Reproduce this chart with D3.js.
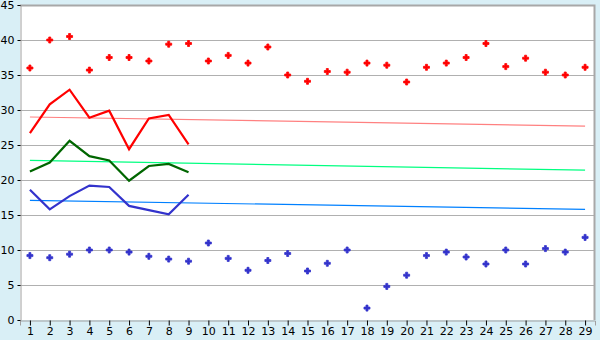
<!DOCTYPE html>
<html lang="en">
<head>
    <meta charset="UTF-8">
    <title>Chart</title>
    <script src="https://cdnjs.cloudflare.com/ajax/libs/d3/7.8.5/d3.min.js"></script>
    <style>
        html, body {
            margin: 0;
            padding: 0;
            background-color: #d9eff6;
        }
        text {
            font-family: "DejaVu Sans", Verdana, sans-serif;
            font-size: 11px;
            fill: #000;
        }
    </style>
</head>
<body>
    <div id="chart"></div>
    <script>
        const days = d3.range(1, 30);
        const yTicks = [0, 5, 10, 15, 20, 25, 30, 35, 40, 45];

        const highPoints = [36, 40, 40.5, 35.7, 37.5, 37.5, 37, 39.4, 39.5, 37, 37.8, 36.7, 39, 35, 34.1,
            35.5, 35.4, 36.7, 36.4, 34, 36.1, 36.7, 37.5, 39.5, 36.2, 37.4, 35.4, 35, 36.1];
        const lowPoints = [9.2, 8.9, 9.4, 10, 10, 9.7, 9.1, 8.7, 8.4, 11, 8.8, 7.1, 8.5, 9.5, 7,
            8.1, 10, 1.7, 4.8, 6.4, 9.2, 9.7, 9, 8, 10, 8, 10.2, 9.7, 11.8];

        const redLine = [26.7, 30.8, 32.9, 28.9, 29.9, 24.4, 28.8, 29.3, 25.1];
        const greenLine = [21.2, 22.5, 25.6, 23.4, 22.8, 19.9, 22, 22.3, 21.1];
        const blueLine = [18.6, 15.8, 17.7, 19.2, 19, 16.3, 15.7, 15.1, 17.9];

        // trend lines, value at day 1 and day 29
        const redTrend = [29.0, 27.7];
        const greenTrend = [22.8, 21.4];
        const blueTrend = [17.1, 15.8];

        const width = 600, height = 340;
        const mLeft = 20, mRight = 595, mTop = 5, mBottom = 320;

        const svg = d3.select("#chart").append("svg")
            .attr("width", width)
            .attr("height", height);

        const x = d3.scalePoint().domain(days).range([mLeft, mRight]).padding(0.5);
        const y = d3.scaleLinear().domain([0, 45]).range([mBottom, mTop]);

        svg.append("rect")
            .attr("x", mLeft).attr("y", mTop)
            .attr("width", mRight - mLeft).attr("height", mBottom - mTop)
            .attr("fill", "#fff");

        // grid
        svg.append("g").selectAll("line")
            .data(yTicks.slice(1))
            .join("line")
            .attr("x1", mLeft).attr("x2", mRight)
            .attr("y1", d => Math.round(y(d)) + 0.5)
            .attr("y2", d => Math.round(y(d)) + 0.5)
            .attr("stroke", "#b0b0b0");

        // frame top / right
        svg.append("path")
            .attr("d", `M${mLeft},${mTop + 0.5}H${mRight - 0.5}V${mBottom}`)
            .attr("fill", "none")
            .attr("stroke", "#a8a8a8")
            .attr("stroke-width", 2);

        const yAxis = svg.append("g")
            .attr("transform", `translate(${mLeft + 0.5},0)`)
            .call(d3.axisLeft(y).tickValues(yTicks).tickSize(3).tickPadding(3));
        yAxis.select(".domain").attr("stroke", "#a0a0a0");
        yAxis.selectAll("text").style("font-size", "11px");

        const xAxis = svg.append("g")
            .attr("transform", `translate(0,${mBottom + 0.5})`)
            .call(d3.axisBottom(x).tickSize(5).tickPadding(2));
        xAxis.select(".domain").attr("stroke", "#a0a0a0");
        xAxis.selectAll("text").style("font-size", "11px");

        // trend lines
        const trends = [[redTrend, "#ff8080"], [greenTrend, "#00ff80"], [blueTrend, "#0080ff"]];
        trends.forEach(([t, c]) => {
            svg.append("line")
                .attr("x1", x(1)).attr("x2", x(29))
                .attr("y1", y(t[0])).attr("y2", y(t[1]))
                .attr("stroke", c)
                .attr("stroke-width", 1.2);
        });

        const line = d3.line()
            .x((d, i) => x(days[i]))
            .y(d => y(d));

        [[redLine, "#ff0000"], [greenLine, "#006600"], [blueLine, "#3333cc"]].forEach(([s, c]) => {
            svg.append("path")
                .datum(s)
                .attr("d", line)
                .attr("fill", "none")
                .attr("stroke", c)
                .attr("stroke-width", 2.2);
        });

        const marker = d3.symbol().type(d3.symbolCross).size(20);
        [[highPoints, "#ff0000"], [lowPoints, "#3333cc"]].forEach(([s, c]) => {
            svg.append("g").selectAll("path")
                .data(s)
                .join("path")
                .attr("d", marker)
                .attr("transform", (d, i) => `translate(${x(days[i])},${y(d)})`)
                .attr("fill", c)
                .attr("stroke", c)
                .attr("stroke-width", 0.8)
                .attr("stroke-linejoin", "round");
        });
    </script>
</body>
</html>
